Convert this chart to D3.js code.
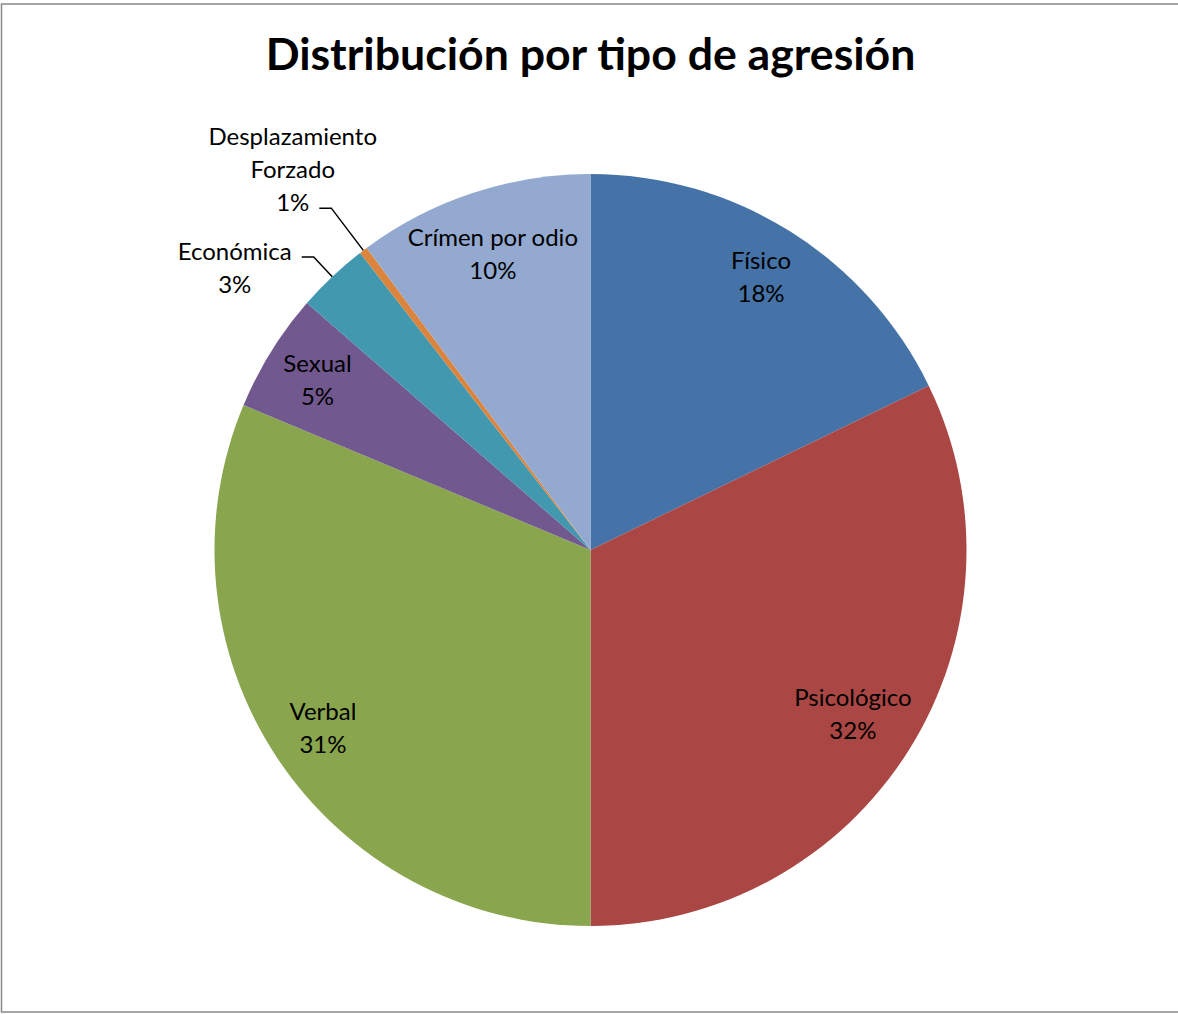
<!DOCTYPE html>
<html>
<head>
<meta charset="utf-8">
<script src="https://cdn.jsdelivr.net/npm/d3@7/dist/d3.min.js"></script>
<style>
  body { margin: 0; background: #fff; }
  text { font-family: Lato, "Open Sans", sans-serif; fill: #000; }
</style>
</head>
<body>
<div id="chart"></div>
<script>
// data
var categories = ["Físico", "Psicológico", "Verbal", "Sexual", "Económica", "Desplazamiento Forzado", "Crímen por odio"];
var values = [17.8, 32.2, 31.3, 5.1, 3.1, 0.35, 10.15];
var pctLabels = ["18%", "32%", "31%", "5%", "3%", "1%", "10%"];
var colors = ["#4572A7", "#AA4643", "#89A54E", "#71588F", "#4198AF", "#DB843D", "#93A9CF"];

var width = 1178, height = 1014;
var cx = 590.5, cy = 550, radius = 376;

var svg = d3.select("#chart").append("svg")
    .attr("width", width)
    .attr("height", height);

// chart area border
svg.append("rect")
    .attr("x", 1.5)
    .attr("y", 4)
    .attr("width", width + 10)
    .attr("height", 1008)
    .attr("fill", "none")
    .attr("stroke", "#888")
    .attr("stroke-width", 1.5);

// title, sized to the width it has in the picture
var title = svg.append("text")
    .attr("x", cx)
    .attr("y", 70)
    .attr("text-anchor", "middle")
    .style("font-weight", "bold")
    .style("font-size", "40px")
    .text("Distribución por tipo de agresión");
var tw = title.node().getComputedTextLength();
title.style("font-size", (40 * 650 / tw) + "px");

var data = categories.map(function(c, i) {
    return { name: c, value: values[i], pct: pctLabels[i], color: colors[i] };
});

var pie = d3.pie()
    .sort(null)
    .value(function(d) { return d.value; });

var arc = d3.arc()
    .innerRadius(0)
    .outerRadius(radius);

var g = svg.append("g")
    .attr("transform", "translate(" + cx + "," + cy + ")");

var arcs = pie(data);

g.selectAll(".slice")
    .data(arcs)
    .enter().append("path")
    .attr("class", "slice")
    .attr("d", arc)
    .attr("fill", function(d) { return d.data.color; });

var fontSize = 24, lineH = 33;

function measure(str) {
    var t = svg.append("text").style("font-size", fontSize + "px").text(str);
    var w = t.node().getComputedTextLength();
    t.remove();
    return w;
}

// inside labels: start at 0.85R and pull in until the text box fits in the circle
var inner = arcs.filter(function(d) { return d.data.value >= 4; });

inner.forEach(function(d) {
    var mid = (d.startAngle + d.endAngle) / 2;
    var w = Math.max(measure(d.data.name), measure(d.data.pct));
    var h = lineH * 2;
    var r = radius * 0.855, c;
    while (r > 0) {
        c = [Math.sin(mid) * r, -Math.cos(mid) * r];
        var far = d3.max([[-1, -1], [1, -1], [-1, 1], [1, 1]], function(s) {
            return Math.hypot(c[0] + s[0] * w / 2, c[1] + s[1] * h / 2);
        });
        if (far <= radius + 2) break;
        r -= 2;
    }
    var t = g.append("text")
        .attr("text-anchor", "middle")
        .style("font-size", fontSize + "px");
    t.append("tspan").attr("x", c[0]).attr("y", c[1] - lineH / 2 + 8).text(d.data.name);
    t.append("tspan").attr("x", c[0]).attr("y", c[1] + lineH / 2 + 8).text(d.data.pct);
});

// outside labels with leader lines
var outer = arcs.filter(function(d) { return d.data.value < 4; });
outer.forEach(function(d, k) {
    var mid = (d.startAngle + d.endAngle) / 2;
    var r2 = radius + 27 + 26 * k;
    var p0 = [Math.sin(mid) * radius, -Math.cos(mid) * radius];
    var p1 = [Math.sin(mid) * r2, -Math.cos(mid) * r2];
    var p2 = [p1[0] - 12, p1[1]];
    g.append("polyline")
        .attr("points", [p0, p1, p2].map(function(p) { return p.join(","); }).join(" "))
        .attr("fill", "none")
        .attr("stroke", "#000")
        .attr("stroke-width", 1.5);

    var lines = d.data.name === "Desplazamiento Forzado"
        ? ["Desplazamiento", "Forzado", d.data.pct]
        : [d.data.name, d.data.pct];
    // the leader meets the last line for the three-line label, the first otherwise
    var attach = lines.length === 3 ? 2 : 0;
    var centerX = p2[0] - 10 - measure(lines[attach]) / 2;
    var t = g.append("text")
        .attr("text-anchor", "middle")
        .style("font-size", fontSize + "px");
    lines.forEach(function(s, i) {
        t.append("tspan")
            .attr("x", centerX)
            .attr("y", p2[1] + (i - attach) * lineH + 3)
            .text(s);
    });
});
</script>
</body>
</html>
